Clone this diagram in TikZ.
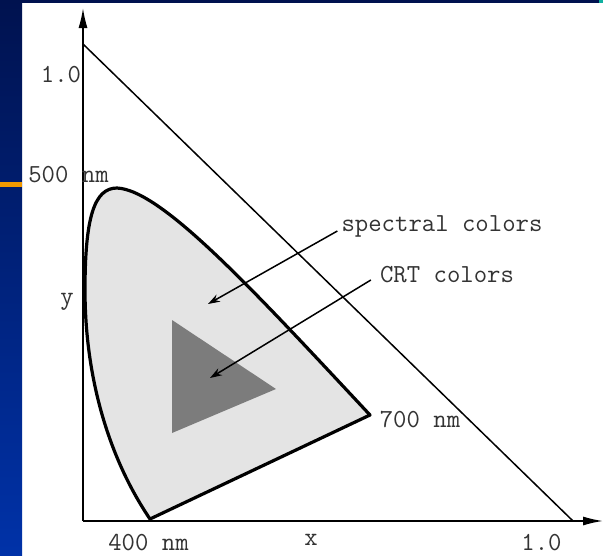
\documentclass[tikz,border=0pt]{standalone}
\usepackage{fontspec}
\usetikzlibrary{arrows.meta,calc,positioning}
\usepackage{xcolor}
\definecolor{navy}{HTML}{00124F}
\definecolor{slideblue}{HTML}{0032A8}
\definecolor{barorange}{HTML}{F29A00}
\definecolor{locusgray}{HTML}{E4E4E4}
\definecolor{crtgray}{HTML}{7C7C7C}
\definecolor{cornerteal}{HTML}{10B0A0}

\begin{document}
\begin{tikzpicture}[
  x=1pt, y=-1pt,
  >=Stealth,
  lbl/.style={font=\fontsize{26}{30}\selectfont\ttfamily, text=black!80, inner sep=0pt, anchor=base},
  axis/.style={-{Latex[length=20pt,width=9pt]}, line width=1.6pt},
  diag/.style={line width=1.5pt},
  pointer/.style={-{Stealth[length=12pt,width=8pt]}, line width=1.5pt},
  locus/.style={draw, line width=3.2pt, fill=locusgray, line join=round},
  gamut/.style={fill=crtgray}
]
\useasboundingbox (0,0) rectangle (603,555);

% slide background
\fill[white] (0,0) rectangle (603,555);
\shade[top color=navy, bottom color=slideblue] (0,0) rectangle (22,555);
\fill[navy] (0,0) rectangle (603,3);
\fill[cornerteal] (599,0) rectangle (603,3);
\fill[barorange] (0,182) rectangle (22,187);

% key points
\coordinate (O) at (83,521);
\coordinate (ytip) at (83,8);
\coordinate (xtip) at (603,521);
\coordinate (yone) at (83,44);
\coordinate (xone) at (573,521);
\coordinate (violet) at (150,519);
\coordinate (red) at (370,415);
\coordinate (green) at (117,188);

% spectral locus and CRT gamut
\path[locus] (violet) -- (red)
  .. controls (255,292) and (162,190) .. (green)
  .. controls (94,188) and (85,218) .. (85,290)
  .. controls (85,380) and (110,460) .. (violet) -- cycle;
\fill[gamut] (172,320) -- (276,389) -- (172,433) -- cycle;
\coordinate (spectralpt) at (208,304);
\coordinate (crtpt) at (210,378);

% axes
\draw[axis] (O) -- (ytip);
\draw[axis] (O) -- (xtip);
\draw[diag] (yone) -- (xone);

% labels
\node[lbl] (yonelbl) at (61,82) {1.0};
\node[lbl] (greenlbl) at (68.5,182) {500 nm};
\node[lbl] (ylbl) at (67,304) {y};
\node[lbl] (spectral) at (442,231) {spectral colors};
\node[lbl] (crt) at (447,282) {CRT colors};
\node[lbl] (redlbl) at (420,427) {700 nm};
\node[lbl] (violetlbl) at (148.5,550) {400 nm};
\node[lbl] (xlbl) at (311,545) {x};
\node[lbl] (xonelbl) at (541.5,550) {1.0};

\draw[pointer] ($(spectral.base west)+(-4,0)$) -- (spectralpt);
\draw[pointer] ($(crt.base west)+(-9,-2)$) -- (crtpt);

\end{tikzpicture}
\end{document}
